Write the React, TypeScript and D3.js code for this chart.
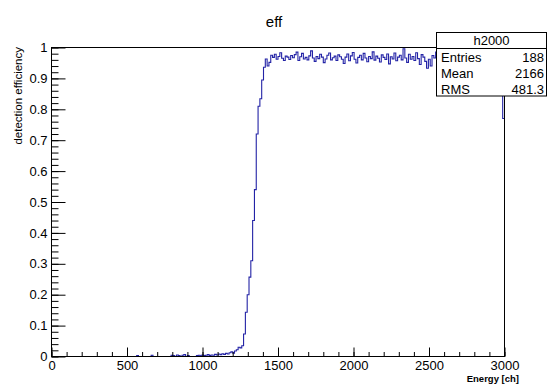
import React, { useRef, useEffect } from 'react';
import * as d3 from 'd3';

// bin contents, 250 bins of 12 ch from 0 to 3000
const lowBins = [
  0, 0, 0, 0, 0, 0, 0, 0, 0, 0, 0, 0, 0, 0, 0, 0, 0, 0, 0, 0,
  0, 0, 0, 0, 0, 0, 0, 0, 0, 0, 0, 0, 0, 0, 0, 0, 0, 0, 0, 0,
  0, 0, 0, 0, 0, 0, 0, 0.003, 0, 0, 0, 0, 0, 0, 0, 0.004, 0, 0, 0, 0,
  0, 0, 0, 0, 0, 0, 0.004, 0.003, 0, 0.005, 0.003, 0, 0.004, 0.006, 0, 0.003, 0, 0, 0, 0,
  0.003, 0.004, 0.002, 0.005, 0.003, 0.004, 0.006, 0.003, 0.005, 0.004, 0.007, 0.005, 0.008, 0.006, 0.009, 0.007, 0.01,
  0.008, 0.012, 0.015, 0.011, 0.018, 0.022,
];
const riseBins = [
  0.03, 0.028, 0.035, 0.073, 0.143, 0.2, 0.257, 0.31, 0.44, 0.54,
  0.72, 0.81, 0.834, 0.895, 0.936, 0.963, 0.94, 0.952,
];
const plateauBins = [
  0.975, 0.968, 0.978, 0.962, 0.971, 0.983, 0.965, 0.958, 0.972, 0.969,
  0.961, 0.974, 0.967, 0.977, 0.985, 0.958, 0.97, 0.981, 0.963, 0.968,
  0.96, 0.973, 0.989, 0.966, 0.955, 0.971, 0.964, 0.978, 0.969, 0.951,
  0.963, 0.975, 0.982, 0.96, 0.967, 0.972, 0.958, 0.976, 0.97, 0.962,
  0.948, 0.969, 0.979, 0.957, 0.973, 0.984, 0.962, 0.95, 0.968, 0.975,
  0.96, 0.981, 0.966, 0.954, 0.971, 0.964, 0.986, 0.959, 0.972, 0.965,
  0.953, 0.976, 0.968, 0.961, 0.979, 0.947, 0.97, 0.963, 0.982, 0.957,
  0.969, 0.975, 0.96, 0.996, 0.966, 0.952, 0.978, 0.962, 0.971, 0.958,
  0.983, 0.964, 0.945, 0.977, 0.969, 0.955, 0.933, 0.962, 0.94, 0.974,
  0.966, 0.985, 0.958, 0.971, 0.949, 0.978, 0.963, 0.97, 0.956, 0.981,
  0.962, 0.974, 0.951, 0.968, 0.979, 0.957, 0.97, 0.945, 0.966, 0.976,
  0.96, 0.983, 0.955, 0.972, 0.964, 0.95, 0.978, 0.961, 0.969, 0.953,
  0.975, 0.958, 0.967, 0.948, 0.972, 0.96, 0.955, 0.93, 0.77,
];
const binWidth = 12;

const xTicks = [0, 500, 1000, 1500, 2000, 2500, 3000];
const yTicks = [0, 0.1, 0.2, 0.3, 0.4, 0.5, 0.6, 0.7, 0.8, 0.9, 1];

const histName = 'h2000';
const statsLabels = ['Entries', 'Mean', 'RMS'];
const statsValues = ['188', '2166', '481.3'];

const App: React.FC = () => {
  const ref = useRef<SVGSVGElement | null>(null);

  useEffect(() => {
    if (!ref.current) return;
    const svg = d3.select(ref.current);
    svg.selectAll('*').remove();

    const width = 548;
    const height = 385;
    const left = 51;
    const right = 504;
    const top = 47;
    const bottom = 356;
    const font = '"Liberation Sans", Arial, Helvetica, sans-serif';

    const values = [...lowBins, ...riseBins, ...plateauBins];

    const x = d3.scaleLinear().domain([0, 3000]).range([left + 0.5, right + 0.5]);
    const y = d3.scaleLinear().domain([0, 1]).range([bottom + 0.5, top + 0.5]);

    svg.attr('width', width)
      .attr('height', height)
      .style('position', 'absolute')
      .style('left', '0px')
      .style('top', '0px')
      .style('font-family', font);

    svg.append('rect')
      .attr('width', width)
      .attr('height', height)
      .attr('fill', '#fff');

    // histogram outline
    const pts: [number, number][] = values.map((v, i) => [i * binWidth, v]);
    pts.unshift([0, 0]);
    pts.push([values.length * binWidth, values[values.length - 1]]);
    const line = d3.line<[number, number]>()
      .x(d => x(d[0]))
      .y(d => y(d[1]))
      .curve(d3.curveStepAfter);
    svg.append('path')
      .attr('d', line(pts))
      .attr('fill', 'none')
      .attr('stroke', '#2323a6')
      .attr('stroke-width', 1.1);

    // axes
    const xAxis = svg.append('g')
      .attr('transform', `translate(0,${bottom + 0.5})`)
      .call(d3.axisBottom(x).tickValues(xTicks).tickSizeInner(-9).tickSizeOuter(0).tickPadding(4).tickFormat(d => String(d)));
    svg.append('g')
      .attr('transform', `translate(0,${bottom + 0.5})`)
      .call(d3.axisBottom(x).tickValues(d3.range(0, 3001, 100)).tickSizeInner(-4.5).tickSizeOuter(0).tickFormat(() => ''));
    const yAxis = svg.append('g')
      .attr('transform', `translate(${left + 0.5},0)`)
      .call(d3.axisLeft(y).tickValues(yTicks).tickSizeInner(-14).tickSizeOuter(0).tickPadding(4).tickFormat(d => String(d)));
    svg.append('g')
      .attr('transform', `translate(${left + 0.5},0)`)
      .call(d3.axisLeft(y).tickValues(d3.range(0, 51).map(i => i / 50)).tickSizeInner(-7).tickSizeOuter(0).tickFormat(() => ''));

    svg.selectAll('.domain').remove();
    svg.selectAll('.tick line').attr('stroke', '#000');
    [xAxis, yAxis].forEach(g => g.selectAll('text')
      .attr('font-size', 13)
      .attr('font-family', font)
      .attr('fill', '#000'));

    // frame
    svg.append('rect')
      .attr('x', left + 0.5)
      .attr('y', top + 0.5)
      .attr('width', right - left)
      .attr('height', bottom - top)
      .attr('fill', 'none')
      .attr('stroke', '#000');

    // titles
    svg.append('text')
      .attr('x', 274)
      .attr('y', 27)
      .attr('text-anchor', 'middle')
      .attr('font-size', 15)
      .text('eff');

    svg.append('text')
      .attr('transform', `translate(22,${top}) rotate(-90)`)
      .attr('text-anchor', 'end')
      .attr('font-size', 11.5)
      .text('detection efficiency');

    svg.append('text')
      .attr('x', 519)
      .attr('y', 382)
      .attr('text-anchor', 'end')
      .attr('font-size', 9.5)
      .attr('font-weight', 'bold')
      .text('Energy [ch]');

    // stats box
    const bx = 436.5, by = 32.5, bw = 110, bh = 63.5;
    const stats = svg.append('g');
    stats.append('rect')
      .attr('x', bx).attr('y', by).attr('width', bw).attr('height', bh)
      .attr('fill', '#fff').attr('stroke', '#000');
    stats.append('line')
      .attr('x1', bx).attr('x2', bx + bw)
      .attr('y1', 48.5).attr('y2', 48.5)
      .attr('stroke', '#000');
    stats.append('text')
      .attr('x', bx + bw / 2).attr('y', 45)
      .attr('text-anchor', 'middle').attr('font-size', 13)
      .text(histName);
    statsLabels.forEach((lab, i) => {
      const ty = 62 + i * 15.8;
      stats.append('text').attr('x', 441).attr('y', ty).attr('font-size', 13).text(lab);
      stats.append('text').attr('x', 544).attr('y', ty).attr('text-anchor', 'end').attr('font-size', 13).text(statsValues[i]);
    });
  }, []);

  return <svg ref={ref} />;
};

export default App;
